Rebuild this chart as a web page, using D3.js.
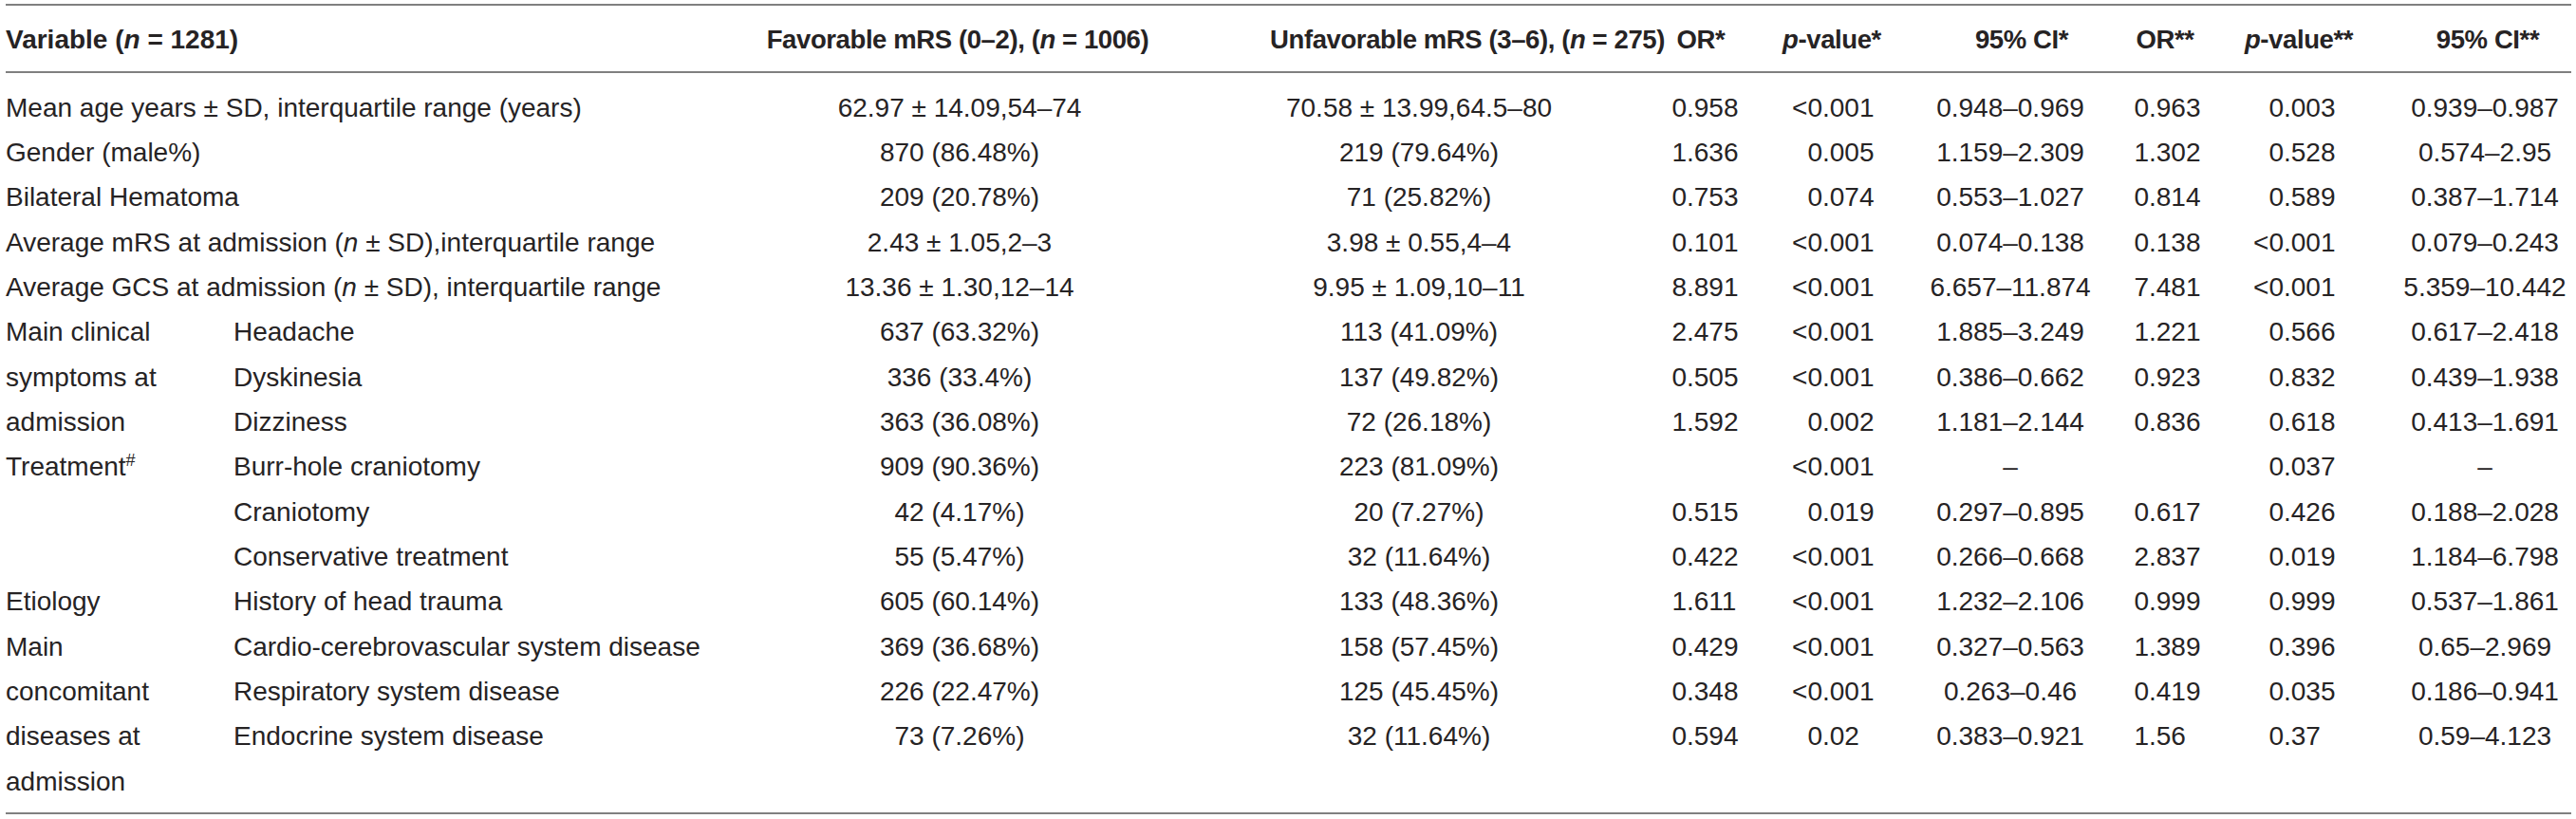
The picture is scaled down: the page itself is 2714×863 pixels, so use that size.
<!DOCTYPE html>
<html>
<head>
<meta charset="utf-8">
<script src="https://cdn.jsdelivr.net/npm/d3@7"></script>
<style>
  body { margin: 0; background: #fff; }
  text { font-family: "Liberation Sans", Arial, Helvetica, sans-serif; font-size: 28px; fill: #262324; }
  .head { font-weight: bold; }
  .colhead { font-size: 27.5px; letter-spacing: -0.4px; }
</style>
</head>
<body>
<script>
// kolomkoppen, _x_ = cursief, ^x^ = superscript
var headers = [
    "Favorable mRS (0–2), (_n_ = 1006)",
    "Unfavorable mRS (3–6), (_n_ = 275)",
    "OR*", "_p_-value*", "95% CI*", "OR**", "_p_-value**", "95% CI**"
];
var firstHeader = "Variable (_n_ = 1281)";

// rijlabels (eerste 5 over de volle breedte, de rest als subcategorie)
var rowLabels = [
    "Mean age years ± SD, interquartile range (years)",
    "Gender (male%)",
    "Bilateral Hematoma",
    "Average mRS at admission (_n_ ± SD),interquartile range",
    "Average GCS at admission (_n_ ± SD), interquartile range",
    "Headache", "Dyskinesia", "Dizziness",
    "Burr-hole craniotomy", "Craniotomy", "Conservative treatment",
    "History of head trauma",
    "Cardio-cerebrovascular system disease", "Respiratory system disease", "Endocrine system disease"
];

// groepslabels in de eerste kolom, per regel
var groupLines = [
    "Main clinical", "symptoms at", "admission",
    "Treatment^#^", "", "",
    "Etiology",
    "Main", "concomitant", "diseases at", "admission"
];

var favorable = [
    "62.97 ± 14.09,54–74", "870 (86.48%)", "209 (20.78%)", "2.43 ± 1.05,2–3", "13.36 ± 1.30,12–14",
    "637 (63.32%)", "336 (33.4%)", "363 (36.08%)", "909 (90.36%)", "42 (4.17%)", "55 (5.47%)",
    "605 (60.14%)", "369 (36.68%)", "226 (22.47%)", "73 (7.26%)"
];
var unfavorable = [
    "70.58 ± 13.99,64.5–80", "219 (79.64%)", "71 (25.82%)", "3.98 ± 0.55,4–4", "9.95 ± 1.09,10–11",
    "113 (41.09%)", "137 (49.82%)", "72 (26.18%)", "223 (81.09%)", "20 (7.27%)", "32 (11.64%)",
    "133 (48.36%)", "158 (57.45%)", "125 (45.45%)", "32 (11.64%)"
];
var or1 = ["0.958", "1.636", "0.753", "0.101", "8.891", "2.475", "0.505", "1.592", "", "0.515", "0.422", "1.611", "0.429", "0.348", "0.594"];
var p1 = ["<0.001", "0.005", "0.074", "<0.001", "<0.001", "<0.001", "<0.001", "0.002", "<0.001", "0.019", "<0.001", "<0.001", "<0.001", "<0.001", "0.02"];
var ci1 = ["0.948–0.969", "1.159–2.309", "0.553–1.027", "0.074–0.138", "6.657–11.874", "1.885–3.249", "0.386–0.662", "1.181–2.144", "–", "0.297–0.895", "0.266–0.668", "1.232–2.106", "0.327–0.563", "0.263–0.46", "0.383–0.921"];
var or2 = ["0.963", "1.302", "0.814", "0.138", "7.481", "1.221", "0.923", "0.836", "", "0.617", "2.837", "0.999", "1.389", "0.419", "1.56"];
var p2 = ["0.003", "0.528", "0.589", "<0.001", "<0.001", "0.566", "0.832", "0.618", "0.037", "0.426", "0.019", "0.999", "0.396", "0.035", "0.37"];
var ci2 = ["0.939–0.987", "0.574–2.95", "0.387–1.714", "0.079–0.243", "5.359–10.442", "0.617–2.418", "0.439–1.938", "0.413–1.691", "–", "0.188–2.028", "1.184–6.798", "0.537–1.861", "0.65–2.969", "0.186–0.941", "0.59–4.123"];

var columns = [favorable, unfavorable, or1, p1, ci1, or2, p2, ci2];

// opmaak
var width = 2714, height = 863;
var headX = [1009, 1546, 1792, 1930, 2130, 2281, 2422, 2621];
var dataX = [1011, 1495, 1777, 1920, 2118, 2264, 2406, 2618];
var decimal = [false, false, true, true, false, true, true, false];
var labelX = 6, subX = 246, nFull = 5;

var svg = d3.select("body").append("svg")
    .attr("width", width)
    .attr("height", height);

// rijposities: 15 datarijen + 1 extra regel voor "admission"
var y = d3.scalePoint()
    .domain(d3.range(rowLabels.length + 1))
    .range([113, 823]);
var headY = 41;

// tekst met cursief/superscript opbouwen
function rich(sel, str) {
    str.split(/(_[^_]+_|\^[^^]+\^)/).forEach(function (part) {
        if (!part) return;
        var t = sel.append("tspan");
        if (part[0] === "_") t.attr("font-style", "italic").text(part.slice(1, -1));
        else if (part[0] === "^") t.attr("font-size", "18px").attr("baseline-shift", "super").text(part.slice(1, -1));
        else t.text(part);
    });
}

// lijnen
[5, 76, 857].forEach(function (ly) {
    svg.append("line")
        .attr("x1", 6).attr("x2", 2709)
        .attr("y1", ly).attr("y2", ly)
        .attr("stroke", "#808080")
        .attr("stroke-width", 2);
});

// koppen
svg.append("text").attr("class", "head")
    .attr("x", labelX).attr("y", headY).attr("dy", "0.35em")
    .call(rich, firstHeader);

svg.selectAll(".colhead")
    .data(headers)
    .enter().append("text")
    .attr("class", "head colhead")
    .attr("x", function (d, i) { return headX[i]; })
    .attr("y", headY).attr("dy", "0.35em")
    .attr("text-anchor", "middle")
    .each(function (d) { rich(d3.select(this), d); });

// rijlabels
svg.selectAll(".rowlabel")
    .data(rowLabels)
    .enter().append("text")
    .attr("class", "rowlabel")
    .attr("x", function (d, i) { return i < nFull ? labelX : subX; })
    .attr("y", function (d, i) { return y(i); })
    .attr("dy", "0.35em")
    .each(function (d) { rich(d3.select(this), d); });

svg.selectAll(".group")
    .data(groupLines)
    .enter().append("text")
    .attr("class", "group")
    .attr("x", labelX)
    .attr("y", function (d, i) { return y(i + nFull); })
    .attr("dy", "0.35em")
    .each(function (d) { rich(d3.select(this), d); });

// cellen
columns.forEach(function (col, c) {
    var g = svg.append("g");
    col.forEach(function (v, r) {
        if (!v) return;
        if (decimal[c] && v.indexOf(".") >= 0) {
            var k = v.indexOf(".");
            g.append("text")
                .attr("x", dataX[c]).attr("y", y(r)).attr("dy", "0.35em")
                .attr("text-anchor", "end")
                .text(v.slice(0, k));
            g.append("text")
                .attr("x", dataX[c]).attr("y", y(r)).attr("dy", "0.35em")
                .attr("text-anchor", "start")
                .text(v.slice(k));
        } else {
            g.append("text")
                .attr("x", dataX[c]).attr("y", y(r)).attr("dy", "0.35em")
                .attr("text-anchor", "middle")
                .text(v);
        }
    });
});
</script>
</body>
</html>
